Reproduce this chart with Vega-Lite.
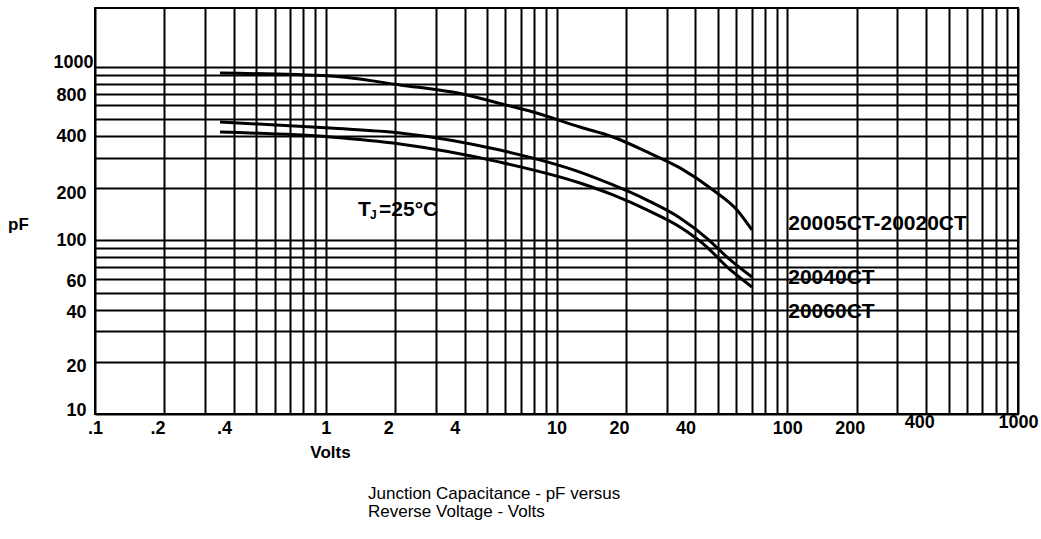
{
  "$schema": "https://vega.github.io/schema/vega-lite/v6.json",
  "autosize": {"type": "none"},
  "width": 923,
  "height": 406,
  "padding": {"left": 95, "top": 8, "right": 23, "bottom": 125},
  "background": "white",
  "config": {
    "font": "Liberation Sans",
    "view": {"stroke": "black", "strokeWidth": 2}
  },
  "title": {
    "text": ["Junction Capacitance - pF versus", "Reverse Voltage - Volts"],
    "orient": "bottom",
    "anchor": "start",
    "frame": "group",
    "dx": 273,
    "offset": 26,
    "font": "Liberation Sans",
    "fontSize": 17,
    "fontWeight": "normal",
    "lineHeight": 18,
    "color": "black"
  },
  "datasets": {
    "curves": [
      {"device": "20005CT-20020CT", "volts": 0.348, "pf": 923},
      {"device": "20005CT-20020CT", "volts": 1.043, "pf": 887},
      {"device": "20005CT-20020CT", "volts": 2.098, "pf": 788},
      {"device": "20005CT-20020CT", "volts": 4.094, "pf": 690},
      {"device": "20005CT-20020CT", "volts": 5.69, "pf": 616},
      {"device": "20005CT-20020CT", "volts": 7.911, "pf": 550},
      {"device": "20005CT-20020CT", "volts": 12.64, "pf": 451},
      {"device": "20005CT-20020CT", "volts": 17.58, "pf": 395},
      {"device": "20005CT-20020CT", "volts": 24.68, "pf": 324},
      {"device": "20005CT-20020CT", "volts": 34.29, "pf": 262},
      {"device": "20005CT-20020CT", "volts": 47.66, "pf": 195.5},
      {"device": "20005CT-20020CT", "volts": 60.56, "pf": 150},
      {"device": "20005CT-20020CT", "volts": 70.35, "pf": 115},
      {"device": "20040CT", "volts": 0.348, "pf": 482},
      {"device": "20040CT", "volts": 1.043, "pf": 445},
      {"device": "20040CT", "volts": 2.098, "pf": 417},
      {"device": "20040CT", "volts": 5.69, "pf": 332},
      {"device": "20040CT", "volts": 12.64, "pf": 248},
      {"device": "20040CT", "volts": 17.58, "pf": 209},
      {"device": "20040CT", "volts": 24.68, "pf": 171},
      {"device": "20040CT", "volts": 34.29, "pf": 135},
      {"device": "20040CT", "volts": 44.89, "pf": 103},
      {"device": "20040CT", "volts": 54.82, "pf": 80.3},
      {"device": "20040CT", "volts": 70.35, "pf": 61.6},
      {"device": "20060CT", "volts": 0.348, "pf": 422},
      {"device": "20060CT", "volts": 1.043, "pf": 395},
      {"device": "20060CT", "volts": 2.098, "pf": 360},
      {"device": "20060CT", "volts": 5.69, "pf": 283},
      {"device": "20060CT", "volts": 12.64, "pf": 214.5},
      {"device": "20060CT", "volts": 17.58, "pf": 183},
      {"device": "20060CT", "volts": 24.68, "pf": 150},
      {"device": "20060CT", "volts": 34.29, "pf": 119.6},
      {"device": "20060CT", "volts": 44.89, "pf": 91.7},
      {"device": "20060CT", "volts": 54.82, "pf": 70.4},
      {"device": "20060CT", "volts": 70.35, "pf": 54}
    ],
    "tags": [
      {"tag": "20005CT-20020CT", "volts": 100, "pf": 124},
      {"tag": "20040CT", "volts": 100, "pf": 60.8},
      {"tag": "20060CT", "volts": 100, "pf": 38.7}
    ],
    "junction": [
      {"volts": 1.38, "pf": 149}
    ]
  },
  "encoding": {
    "x": {
      "field": "volts",
      "type": "quantitative",
      "scale": {"type": "log", "domain": [0.1, 1000], "nice": false},
      "axis": {
        "title": "Volts",
        "titleFont": "Liberation Sans",
        "titleFontSize": 17,
        "titleFontWeight": "bold",
        "titleColor": "black",
        "titleX": 235,
        "titleY": 38,
        "titleAlign": "center",
        "titleBaseline": "middle",
        "values": [0.1, 0.2, 0.3, 0.4, 0.5, 0.6, 0.7, 0.8, 0.9, 1, 2, 3, 4, 5, 6, 7, 8, 9, 10, 20, 30, 40, 50, 60, 70, 80, 90, 100, 200, 300, 400, 500, 600, 700, 800, 900, 1000],
        "labelExpr": "indexof([0.1, 0.2, 0.4, 1, 2, 4, 10, 20, 40, 100, 200, 400, 1000], datum.value) >= 0 ? (datum.value < 1 ? '.' + format(datum.value * 10, 'd') : format(datum.value, 'd')) : ''",
        "labelFont": "Liberation Sans",
        "labelFontSize": 18,
        "labelFontWeight": "bold",
        "labelColor": "black",
        "labelPadding": {
          "condition": {"test": "datum.value == 400 || datum.value == 1000", "value": -1},
          "value": 5
        },
        "labelOffset": {
          "condition": [
            {"test": "datum.value == 0.4 || datum.value == 4 || datum.value == 40", "value": -10},
            {"test": "datum.value == 0.2 || datum.value == 2 || datum.value == 20 || datum.value == 200 || datum.value == 400", "value": -7}
          ],
          "value": 0
        },
        "labelFlush": false,
        "labelOverlap": false,
        "labelBound": false,
        "ticks": false,
        "domain": false,
        "grid": true,
        "gridColor": "black",
        "gridWidth": 2,
        "gridOpacity": 1
      }
    },
    "y": {
      "field": "pf",
      "type": "quantitative",
      "scale": {"type": "log", "domain": [10, 2188], "nice": false},
      "axis": {
        "title": "pF",
        "titleFont": "Liberation Sans",
        "titleFontSize": 17,
        "titleFontWeight": "bold",
        "titleColor": "black",
        "titleAngle": 0,
        "titleX": -77,
        "titleY": 216,
        "titleAlign": "center",
        "titleBaseline": "middle",
        "values": [10, 20, 30, 40, 50, 60, 70, 80, 90, 100, 200, 300, 400, 500, 600, 700, 800, 900, 1000],
        "labelExpr": "indexof([10, 20, 40, 60, 100, 200, 400, 800, 1000], datum.value) >= 0 ? format(datum.value, 'd') : ''",
        "labelFont": "Liberation Sans",
        "labelFontSize": 18,
        "labelFontWeight": "bold",
        "labelColor": "black",
        "labelPadding": {
          "condition": {"test": "datum.value == 1000", "value": 2},
          "value": 9
        },
        "labelOffset": {
          "condition": [
            {"test": "datum.value == 800", "value": 12},
            {"test": "datum.value == 1000 || datum.value == 10", "value": -4},
            {"test": "datum.value == 200 || datum.value == 20", "value": 5},
            {"test": "datum.value == 60 || datum.value == 40", "value": 3}
          ],
          "value": 0
        },
        "labelOverlap": false,
        "labelBound": false,
        "ticks": false,
        "domain": false,
        "grid": true,
        "gridColor": "black",
        "gridWidth": 2,
        "gridOpacity": 1
      }
    }
  },
  "layer": [
    {
      "data": {"name": "curves"},
      "mark": {"type": "line", "color": "black", "strokeWidth": 3, "interpolate": "monotone"},
      "encoding": {"detail": {"field": "device", "type": "nominal"}}
    },
    {
      "data": {"name": "tags"},
      "mark": {"type": "text", "align": "left", "baseline": "middle", "dx": 1, "font": "Liberation Sans", "fontSize": 21, "fontWeight": "bold", "color": "black"},
      "encoding": {"text": {"field": "tag", "type": "nominal"}}
    },
    {
      "data": {"name": "junction"},
      "mark": {"type": "text", "text": "T", "align": "left", "baseline": "middle", "font": "Liberation Sans", "fontSize": 21, "fontWeight": "bold", "color": "black"}
    },
    {
      "data": {"name": "junction"},
      "mark": {"type": "text", "text": "J", "align": "left", "baseline": "middle", "dx": 12, "dy": 5, "font": "Liberation Sans", "fontSize": 12, "fontWeight": "bold", "color": "black"}
    },
    {
      "data": {"name": "junction"},
      "mark": {"type": "text", "text": "=25°C", "align": "left", "baseline": "middle", "dx": 21, "font": "Liberation Sans", "fontSize": 21, "fontWeight": "bold", "color": "black"}
    }
  ]
}
